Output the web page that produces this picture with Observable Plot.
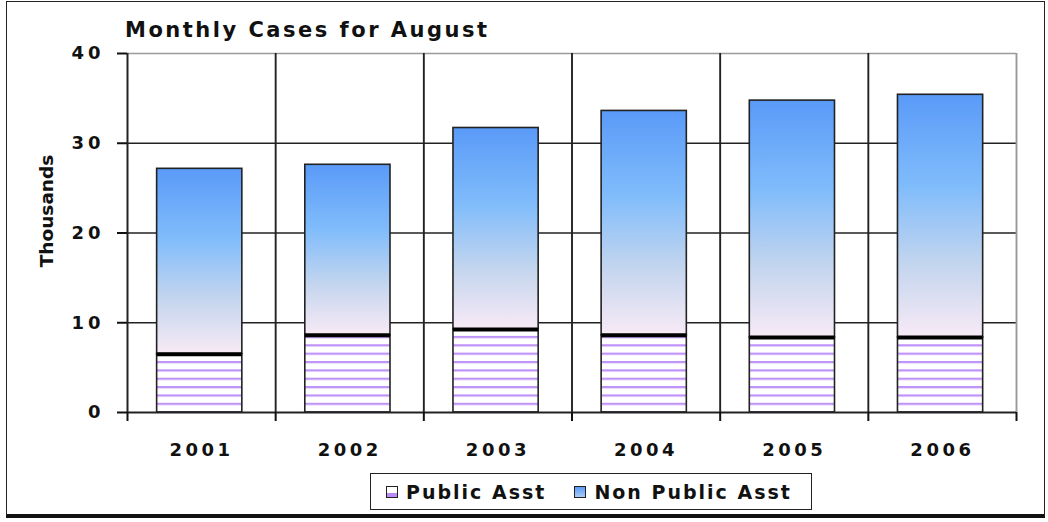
<!DOCTYPE html>
<html><head><meta charset="utf-8">
<script src="https://cdn.jsdelivr.net/npm/d3@7"></script>
<script src="https://cdn.jsdelivr.net/npm/@observablehq/plot@0.6"></script>
<style>
body{margin:0;background:#fff;}
#wrap{position:relative;width:1048px;height:522px;overflow:hidden;font-family:"DejaVu Sans",sans-serif;background:#fff;}
#frame{position:absolute;left:6px;top:1px;width:1037px;height:512px;border:1.5px solid #222;border-bottom:4px solid #111;}
#title{position:absolute;left:125px;top:18px;font-weight:bold;font-size:21px;letter-spacing:2.5px;color:#111;white-space:nowrap;}
#chart{position:absolute;left:0;top:0;}
#legend{position:absolute;left:370px;top:473px;width:442px;height:37px;border:1.5px solid #222;box-sizing:border-box;display:flex;align-items:center;font-weight:bold;font-size:19px;letter-spacing:2px;color:#111;white-space:nowrap;}
.sw{display:inline-block;width:10px;height:10px;border:1.5px solid #222;margin-right:8px;vertical-align:middle;}
.item{display:flex;align-items:center;}
svg [aria-label="y-axis tick label"] text{letter-spacing:4px;}
svg [aria-label="x-axis tick label"] text{letter-spacing:3.5px;}
</style>
</head><body>
<div id="wrap">
  <div id="frame"></div>
  <div id="chart"></div>
  <div id="title">Monthly Cases for August</div>
  <div id="legend"></div>
</div>
<script>
const years = ["2001", "2002", "2003", "2004", "2005", "2006"];
const publicAsst = [6.5, 8.6, 9.25, 8.6, 8.35, 8.35];
const nonPublicAsst = [20.65, 19.0, 22.45, 25.0, 26.4, 27.05];
const yTicks = [0, 10, 20, 30, 40];
const seriesNames = ["Public Asst", "Non Public Asst"];

const rows = years.map((year, i) => ({i, year, pub: publicAsst[i], total: publicAsst[i] + nonPublicAsst[i]}));
const bounds = d3.range(0, years.length + 1);
const centers = rows.map(d => d.i + 0.5);
const bx1 = d => d.i + 0.2, bx2 = d => d.i + 0.775;

const chart = Plot.plot({
  width: 1048,
  height: 470,
  marginLeft: 127,
  marginRight: 32,
  marginTop: 53,
  marginBottom: 58,
  style: {fontFamily: "DejaVu Sans, sans-serif", color: "#111", background: "transparent", overflow: "visible"},
  x: {type: "linear", domain: [0, years.length]},
  y: {domain: [0, 40]},
  marks: [
    Plot.ruleY([10, 20, 30], {stroke: "#222", strokeWidth: 1.7}),
    Plot.ruleY([40], {stroke: "#9a9a9a", strokeWidth: 1.7}),
    Plot.ruleX(bounds.slice(1, -1), {stroke: "#222", strokeWidth: 1.9}),
    Plot.ruleX([years.length], {stroke: "#9a9a9a", strokeWidth: 1.9}),
    Plot.rectY(rows, {x1: bx1, x2: bx2, y1: 0, y2: "pub", fill: "url(#pubStripes)", stroke: "#222", strokeWidth: 1.6}),
    Plot.rectY(rows, {x1: bx1, x2: bx2, y1: "pub", y2: "total", fill: "url(#npGrad)", stroke: "#222", strokeWidth: 1.6}),
    Plot.ruleY(rows, {y: "pub", x1: bx1, x2: bx2, stroke: "#000", strokeWidth: 4}),
    Plot.ruleX([0], {y1: 0, y2: 40, stroke: "#222", strokeWidth: 2}),
    Plot.ruleY([0], {stroke: "#222", strokeWidth: 2}),
    Plot.axisY(yTicks, {tickSize: 10, tickPadding: 13, strokeWidth: 2, fontSize: 18, fontWeight: "bold", label: null, tickFormat: d => String(d)}),
    Plot.axisX(bounds, {tickSize: 9, strokeWidth: 2, tickFormat: () => "", label: null}),
    Plot.axisX(centers, {tickSize: 0, tickPadding: 31, fontSize: 18, fontWeight: "bold", label: null, tickFormat: v => years[Math.floor(v)]}),
    Plot.text(["Thousands"], {frameAnchor: "left", textAnchor: "middle", rotate: -90, dx: -80, dy: -22, fontSize: 18.5, fontWeight: "bold", fill: "#111"})
  ]
});

const ns = "http://www.w3.org/2000/svg";
const defs = document.createElementNS(ns, "defs");
defs.innerHTML = `
<linearGradient id="npGrad" x1="0" y1="0" x2="0" y2="1">
  <stop offset="0" stop-color="#5a9af8"/>
  <stop offset="0.38" stop-color="#80bcfb"/>
  <stop offset="0.7" stop-color="#c3d5ee"/>
  <stop offset="1" stop-color="#f8eaf6"/>
</linearGradient>
<pattern id="pubStripes" patternUnits="userSpaceOnUse" x="0" y="1.5" width="10" height="8.36">
  <rect width="10" height="8.36" fill="#ffffff"/>
  <rect y="0" width="10" height="2.2" fill="#be92f8"/>
</pattern>`;
chart.insertBefore(defs, chart.firstChild);
document.getElementById("chart").appendChild(chart);

const legend = document.getElementById("legend");
const swStyles = [
  "background:linear-gradient(#fff 60%, #b98af5 60%);",
  "background:linear-gradient(#5a9af8, #a9cdf6);"
];
seriesNames.forEach((name, k) => {
  const it = document.createElement("span");
  it.className = "item";
  it.style.marginLeft = k === 0 ? "15px" : "28px";
  it.innerHTML = `<span class="sw" style="${swStyles[k]}"></span><span>${name}</span>`;
  legend.appendChild(it);
});
</script>
</body></html>
